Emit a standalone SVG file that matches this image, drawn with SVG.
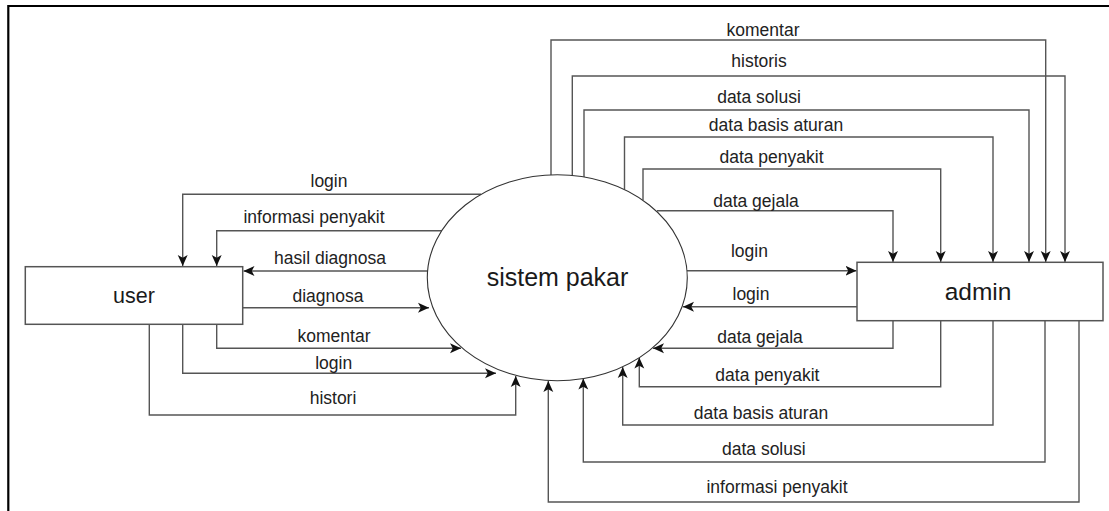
<svg xmlns="http://www.w3.org/2000/svg" width="1109" height="511" viewBox="0 0 1109 511">
  <defs>
    <marker id="arrow" viewBox="0 0 10 10" refX="10" refY="5" markerWidth="11" markerHeight="11" markerUnits="userSpaceOnUse" orient="auto">
      <path d="M0,0.5 L10,5 L0,9.5 L2.5,5 z" fill="#111"/>
    </marker>
    <style>
      .frame { fill: none; stroke: #000; stroke-width: 2.2; }
      .box { fill: #fff; stroke: #555; stroke-width: 1.5; }
      .proc { fill: #fff; stroke: #333; stroke-width: 1.1; }
      .flow { fill: none; stroke: #555; stroke-width: 1.4; marker-end: url(#arrow); }
      .lbl { font-family: "Liberation Sans", Arial, sans-serif; font-size: 17.5px; fill: #222; text-anchor: middle; }
      .name { font-family: "Liberation Sans", Arial, sans-serif; fill: #1a1a1a; text-anchor: middle; }
    </style>
  </defs>

  <rect width="1109" height="511" fill="#fff"/>
  <!-- open frame: left and top edges -->
  <path class="frame" d="M8.3,511 V6 H1109"/>

  <!-- data flows -->
  <g id="connectors">
    <!-- sistem pakar -> user -->
    <path class="flow" d="M481,194.3 H182.7 V266"/>
    <text class="lbl" x="329" y="186.7">login</text>
    <path class="flow" d="M441.7,230.7 H216.7 V266"/>
    <text class="lbl" x="314" y="222.7">informasi penyakit</text>
    <path class="flow" d="M427.5,271 H243.5"/>
    <text class="lbl" x="330" y="264">hasil diagnosa</text>

    <!-- user -> sistem pakar -->
    <path class="flow" d="M242.7,307.7 H429"/>
    <text class="lbl" x="328" y="301.7">diagnosa</text>
    <path class="flow" d="M216.7,324.3 V348.3 H461"/>
    <text class="lbl" x="334" y="341.7">komentar</text>
    <path class="flow" d="M182.7,324.3 V373.3 H496"/>
    <text class="lbl" x="333.7" y="369">login</text>
    <path class="flow" d="M149.3,324.3 V415 H515.7 V376"/>
    <text class="lbl" x="333" y="403.5">histori</text>

    <!-- sistem pakar -> admin -->
    <path class="flow" d="M551,175.3 V40 H1045.7 V262"/>
    <text class="lbl" x="763" y="36">komentar</text>
    <path class="flow" d="M572.3,175.5 V76 H1065 V262"/>
    <text class="lbl" x="759" y="66.7">historis</text>
    <path class="flow" d="M584,177 V110 H1029 V262"/>
    <text class="lbl" x="759" y="103.3">data solusi</text>
    <path class="flow" d="M624.5,189.5 V137 H993 V262"/>
    <text class="lbl" x="776" y="131">data basis aturan</text>
    <path class="flow" d="M643,200 V169 H940.7 V262"/>
    <text class="lbl" x="771.5" y="162.7">data penyakit</text>
    <path class="flow" d="M657,210.7 H893 V262"/>
    <text class="lbl" x="756" y="206.7">data gejala</text>
    <path class="flow" d="M687,270.7 H856.5"/>
    <text class="lbl" x="749.4" y="256.7">login</text>

    <!-- admin -> sistem pakar -->
    <path class="flow" d="M857,306.7 H683"/>
    <text class="lbl" x="751" y="300">login</text>
    <path class="flow" d="M893,320.7 V348.3 H653"/>
    <text class="lbl" x="760" y="343.3">data gejala</text>
    <path class="flow" d="M940.7,320.7 V386.7 H639.3 V357.5"/>
    <text class="lbl" x="767.4" y="380.7">data penyakit</text>
    <path class="flow" d="M993,320.7 V425 H622.7 V367"/>
    <text class="lbl" x="761" y="419.3">data basis aturan</text>
    <path class="flow" d="M1045,320.7 V462 H583.3 V378.5"/>
    <text class="lbl" x="763.8" y="455">data solusi</text>
    <path class="flow" d="M1079,320.7 V502 H548.3 V381"/>
    <text class="lbl" x="777" y="493.3">informasi penyakit</text>
  </g>

  <!-- external entity: user -->
  <g id="node-user">
    <rect class="box" x="25.3" y="266.7" width="217.4" height="57.6"/>
    <text class="name" x="134" y="302.7" font-size="21.5">user</text>
  </g>

  <!-- process: sistem pakar -->
  <g id="node-sistem-pakar">
    <ellipse class="proc" cx="557.3" cy="277.8" rx="130" ry="103"/>
    <text class="name" x="557.5" y="286" font-size="25">sistem pakar</text>
  </g>

  <!-- external entity: admin -->
  <g id="node-admin">
    <rect class="box" x="857" y="262.3" width="246" height="58.4"/>
    <text class="name" x="978" y="300" font-size="24.5">admin</text>
  </g>
</svg>
